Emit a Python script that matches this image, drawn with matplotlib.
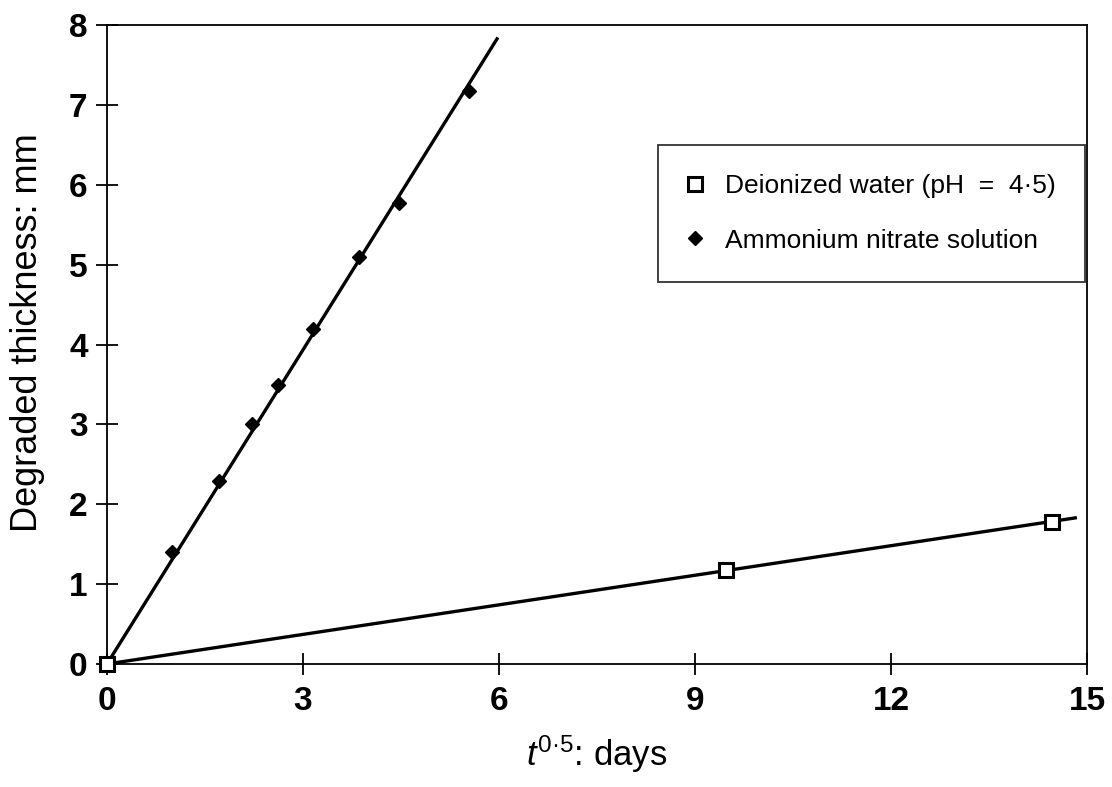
import numpy as np
import matplotlib
matplotlib.use('Agg')
import matplotlib.pyplot as plt

# Datos
x_agua = [0.0, 9.48, 14.47]
y_agua = [0.0, 1.18, 1.78]
x_nitrato = [0.0, 1.0, 1.71, 2.22, 2.62, 3.15, 3.86, 4.47, 5.54]
y_nitrato = [0.0, 1.4, 2.29, 3.0, 3.49, 4.2, 5.1, 5.77, 7.18]
# Extensión de las rectas de ajuste
fin_agua = 14.82
fin_nitrato = 5.97

etiquetas = ['Deionized water (pH  =  4·5)', 'Ammonium nitrate solution']

plt.rcParams.update({'font.family': ['Liberation Sans', 'DejaVu Sans'],
                     'mathtext.fontset': 'custom',
                     'mathtext.rm': 'Liberation Sans',
                     'mathtext.it': 'Liberation Sans:italic'})

fig = plt.figure(figsize=(11.12, 7.87), dpi=100)
ax = fig.add_axes([0.0962, 0.1563, 0.8813, 0.8117])


def pendiente(x, y):
    # ajuste por mínimos cuadrados que pasa por el origen
    x = np.array(x)
    y = np.array(y)
    return (x * y).sum() / (x * x).sum()


m_agua = pendiente(x_agua, y_agua)
m_nitrato = pendiente(x_nitrato, y_nitrato)

ax.plot([0, fin_agua], [0, m_agua * fin_agua], color='black', lw=2.4, zorder=2)
ax.plot([0, fin_nitrato], [0, m_nitrato * fin_nitrato], color='black', lw=2.4, zorder=2)

ax.plot(x_agua, y_agua, ls='none', marker='s', ms=10, mfc='white', mec='black',
        mew=2.2, label=etiquetas[0], zorder=4, clip_on=False)
ax.plot(x_nitrato[1:], y_nitrato[1:], ls='none', marker='D', ms=7.5, color='black',
        label=etiquetas[1], zorder=3)

ax.set_xlim(0, 15)
ax.set_ylim(0, 8)
ax.set_xticks([0, 3, 6, 9, 12, 15])
ax.set_yticks(range(0, 9))
ax.tick_params(direction='inout', length=16, width=1.3, labelsize=24, pad=6)
ax.tick_params(axis='x', pad=8)
for lab in ax.get_xticklabels() + ax.get_yticklabels():
    lab.set_fontweight('bold')
for s in ax.spines.values():
    s.set_linewidth(1.3)

ax.set_xlabel(r'$\mathit{t}^{\mathrm{0·5}}$: days', fontsize=25, labelpad=12)
ax.set_ylabel('Degraded thickness: mm', fontsize=26)
ax.yaxis.set_label_coords(-0.063, 0.518)

leg = ax.legend(loc='upper right', bbox_to_anchor=(0.998, 0.812), fontsize=19,
                frameon=True, fancybox=False, edgecolor='black', borderpad=1.1,
                labelspacing=1.15, handlelength=0.6, handletextpad=0.85,
                borderaxespad=0)
leg.get_frame().set_linewidth(1.3)

fig.savefig('out.png', dpi=100)
